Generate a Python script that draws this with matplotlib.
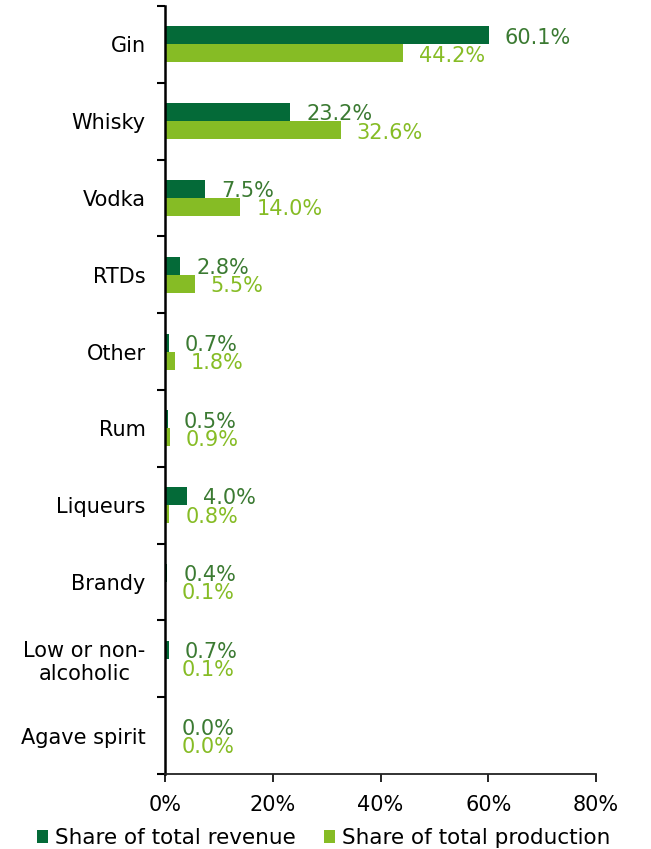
import matplotlib
matplotlib.use("Agg")
import matplotlib.pyplot as plt
import numpy as np
from matplotlib.ticker import FuncFormatter

categories = ["Gin", "Whisky", "Vodka", "RTDs", "Other", "Rum", "Liqueurs",
              "Brandy", "Low or non-\nalcoholic", "Agave spirit"]
revenue_share = [60.1, 23.2, 7.5, 2.8, 0.7, 0.5, 4.0, 0.4, 0.7, 0.0]
production_share = [44.2, 32.6, 14.0, 5.5, 1.8, 0.9, 0.8, 0.1, 0.1, 0.0]
x_ticks = [0, 20, 40, 60, 80]

dark_green = "#046A38"
light_green = "#86BC25"
dark_label = "#3B7A32"
light_label = "#86BC25"

plt.rcParams["font.family"] = ["DejaVu Sans"]

W, H = 651, 849
fig = plt.figure(figsize=(W / 100, H / 100), dpi=100)
ax = fig.add_axes([165 / W, (H - 774) / H, 431 / W, 768 / H])

n = len(categories)
y = np.arange(n)
bh = 0.235

ax.barh(y - bh / 2, revenue_share, height=bh, color=dark_green,
        label="Share of total revenue")
ax.barh(y + bh / 2, production_share, height=bh, color=light_green,
        label="Share of total production")

for yi, r, p in zip(y, revenue_share, production_share):
    ax.text(r + 3.0, yi - bh / 2 + 0.03, f"{r:.1f}%", va="center", ha="left",
            fontsize=15, color=dark_label)
    ax.text(p + 3.0, yi + bh / 2 + 0.03, f"{p:.1f}%", va="center", ha="left",
            fontsize=15, color=light_label)

ax.set_xlim(0, 80)
ax.set_ylim(n - 0.5, -0.5)
ax.set_xticks(x_ticks)
ax.xaxis.set_major_formatter(FuncFormatter(lambda v, _: f"{v:.0f}%"))
ax.set_yticks(y)
ax.set_yticklabels(categories, fontsize=15, ha="right", multialignment="center")
ax.tick_params(axis="y", length=0, pad=14)
ax.set_yticks(np.arange(-0.5, n, 1), minor=True)
ax.tick_params(axis="y", which="minor", length=6, width=1.5, direction="out")
ax.tick_params(axis="x", length=6, width=1.2, direction="out", labelsize=15, pad=9)

for s in ["top", "right"]:
    ax.spines[s].set_visible(False)
ax.spines["left"].set_linewidth(1.8)
ax.spines["bottom"].set_linewidth(1.3)
ax.spines["bottom"].set_color("#222222")

fig.legend(loc="center left", bbox_to_anchor=(28 / W, (H - 838) / H), ncol=2,
           frameon=False, fontsize=15.5, handlelength=0.55, handleheight=0.55,
           handletextpad=0.3, columnspacing=1.3, borderaxespad=0)

fig.savefig("out.png", dpi=100)
